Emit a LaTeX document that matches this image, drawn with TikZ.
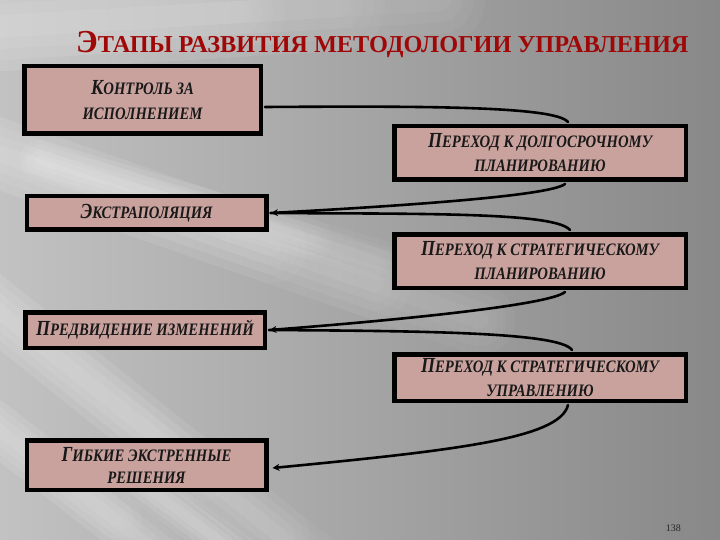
\documentclass[tikz,border=0pt]{standalone}
\usepackage{fontspec}
\setmainfont{Liberation Serif}
\usetikzlibrary{arrows.meta,calc}
\definecolor{boxfill}{HTML}{C9A29E}
\definecolor{titlered}{HTML}{A00808}
\definecolor{bgleft}{HTML}{C2C2C2}
\definecolor{bgmid}{HTML}{A2A2A2}
\definecolor{bgright}{HTML}{888888}
\newcommand\cz[1]{\scalebox{0.84}[1]{#1}}
\newcommand\ini[1]{{\fontsize{21.5}{24}\selectfont #1}}
\newcommand\tini[1]{{\fontsize{32}{34}\selectfont #1}}
\tikzset{
  stage/.style={draw=black, line width=4.5pt, fill=boxfill, align=center,
    inner sep=0pt, text=black!90,
    font=\fontsize{17.5}{24}\selectfont\bfseries\itshape},
  link/.style={line width=2.6pt, black, line cap=round},
  tipped/.style={link, -{Stealth[length=7pt,width=7pt]}},
  glow/.style={white, opacity=0.035, line cap=round},
}
\newcommand\streak[3]{%
  \foreach \w in {1,0.75,0.5,0.25}
    \foreach \t in {1,0.8,0.6}
      {\draw[glow, line width=\w*#3 pt] #1 -- ($#1!\t!#2$);}}
\begin{document}
\begin{tikzpicture}[x=1pt,y=-1pt]
\useasboundingbox (0,0) rectangle (720,540);
% background
\shade[left color=bgleft, middle color=bgmid, right color=bgright] (0,0) rectangle (720,540);
\streak{(-60,30)}{(440,0)}{90}
\streak{(-40,140)}{(480,320)}{70}
\streak{(-40,280)}{(360,600)}{60}
\streak{(-40,400)}{(220,600)}{50}
\streak{(40,160)}{(380,260)}{40}
\streak{(110,460)}{(300,600)}{40}
% title
\node[anchor=base west, inner sep=0pt, text=titlered, font=\fontsize{24.3}{26}\selectfont\bfseries] (title) at (76,53)
  {\tini{Э}ТАПЫ РАЗВИТИЯ МЕТОДОЛОГИИ УПРАВЛЕНИЯ};
% boxes
\node[stage, minimum width=236.5pt, minimum height=67.5pt] (b1) at (142.5,100)
  {\raisebox{2pt}{\cz{\ini{К}ОНТРОЛЬ ЗА}}\\\raisebox{1pt}{\cz{ИСПОЛНЕНИЕМ}}};
\node[stage, minimum width=291.5pt, minimum height=53.5pt] (b2) at (540,153)
  {\cz{\ini{П}ЕРЕХОД К ДОЛГОСРОЧНОМУ}\\\cz{ПЛАНИРОВАНИЮ}};
\node[stage, minimum width=239.5pt, minimum height=33.5pt] (b3) at (146.5,213)
  {\cz{\ini{Э}КСТРАПОЛЯЦИЯ}};
\node[stage, minimum width=291.5pt, minimum height=53.5pt] (b4) at (540,261)
  {\cz{\ini{П}ЕРЕХОД К СТРАТЕГИЧЕСКОМУ}\\\cz{ПЛАНИРОВАНИЮ}};
\node[stage, minimum width=239.5pt, minimum height=35.5pt] (b5) at (145,330)
  {\cz{\ini{П}РЕДВИДЕНИЕ ИЗМЕНЕНИЙ}};
\node[stage, minimum width=291.5pt, minimum height=46.5pt] (b6) at (540,377.5)
  {\cz{\ini{П}ЕРЕХОД К СТРАТЕГИЧЕСКОМУ}\\\cz{УПРАВЛЕНИЮ}};
\node[stage, minimum width=239.5pt, minimum height=49.5pt] (b7) at (146.5,465)
  {\raisebox{-6pt}{\cz{\ini{Г}ИБКИЕ ЭКСТРЕННЫЕ}}\\\raisebox{-4pt}{\cz{РЕШЕНИЯ}}};
% connectors
\coordinate (s1) at ([xshift=2pt,yshift=-7pt]b1.east);
\coordinate (e1) at ([xshift=28pt,yshift=2pt]b2.north);
\coordinate (s2) at ([xshift=25pt,yshift=-2pt]b2.south);
\coordinate (e3) at ([xshift=30pt,yshift=2pt]b4.north);
\coordinate (s4) at ([xshift=25pt,yshift=-2pt]b4.south);
\coordinate (e5) at ([xshift=32pt,yshift=2pt]b6.north);
\coordinate (s6) at ([xshift=28pt,yshift=-2pt]b6.south);
\draw[link] (s1) .. controls (420,106) and (555,106) .. (e1);
\draw[tipped] (s2) .. controls (550,196) and (400,206) .. ([xshift=2.5pt]b3.east);
\draw[link] ([xshift=2pt]b3.east) .. controls (420,214) and (555,212) .. (e3);
\draw[tipped] (s4) .. controls (550,305) and (400,320) .. ([xshift=2.5pt]b5.east);
\draw[link] ([xshift=2pt]b5.east) .. controls (420,331) and (560,332) .. (e5);
\draw[tipped] (s6) .. controls (560,438) and (460,450) .. ([xshift=4pt,yshift=-3pt]b7.east);
% page number
\node[anchor=base east, inner sep=0pt, font=\fontsize{10}{11}\selectfont, text=black!85] (pg) at (681,531) {138};
\end{tikzpicture}
\end{document}
